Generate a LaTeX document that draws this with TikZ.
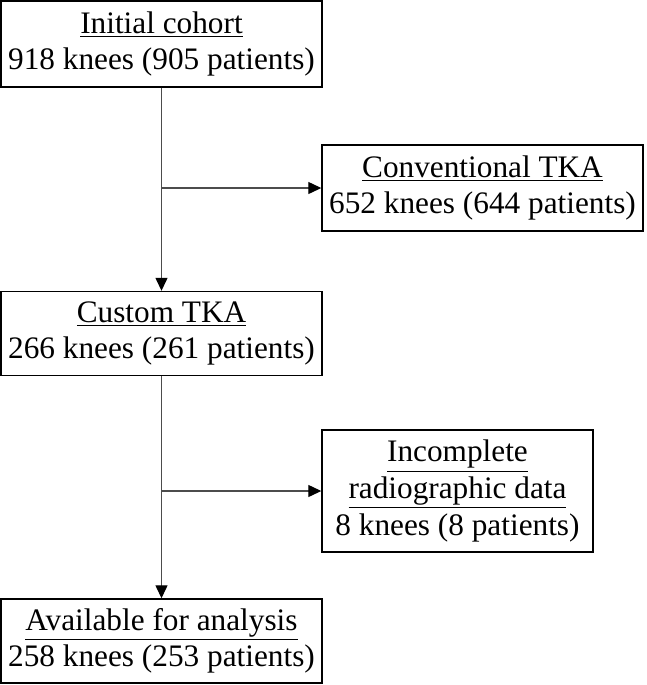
\documentclass[tikz,border=0pt]{standalone}
\usepackage{fontspec}
\setmainfont{Liberation Serif}
\usetikzlibrary{positioning,arrows.meta}

\tikzset{
  stage/.style={draw=black, line width=0.8pt, inner sep=0pt, align=center,
    minimum width=6.42cm, minimum height=1.72cm,
    font=\fontsize{17.8}{20.8}\selectfont},
  link/.style={draw=black!70, line width=0.7pt, -{Triangle[length=0.26cm,width=0.24cm,color=black]}}
}

\begin{document}
\begin{tikzpicture}
      \useasboundingbox (0,0) rectangle (12.92,-13.7);

      \node[stage] (initial) at (3.23,-0.88) {\underline{Initial cohort}\\918 knees (905 patients)};
      \node[stage] (conventional) at (9.65,-3.76) {\underline{Conventional TKA}\\652 knees (644 patients)};
      \node[stage, minimum height=1.68cm] (custom) at (3.23,-6.67) {\underline{Custom TKA}\\266 knees (261 patients)};
      \node[stage, minimum width=5.42cm, minimum height=2.44cm] (incomplete) at (9.15,-9.82)
        {\underline{Incomplete}\\\underline{radiographic data}\\8 knees (8 patients)};
      \node[stage, minimum height=1.68cm] (available) at (3.23,-12.82) {\underline{Available for analysis}\\258 knees (253 patients)};

      \coordinate (split1) at (initial.south |- conventional.west);
      \coordinate (split2) at (custom.south |- incomplete.west);

      \draw[link] (initial) -- (custom);
      \draw[link] (split1) -- (conventional.west);
      \draw[link] (custom) -- (available);
      \draw[link] (split2) -- (incomplete.west);
    \end{tikzpicture}
\end{document}
